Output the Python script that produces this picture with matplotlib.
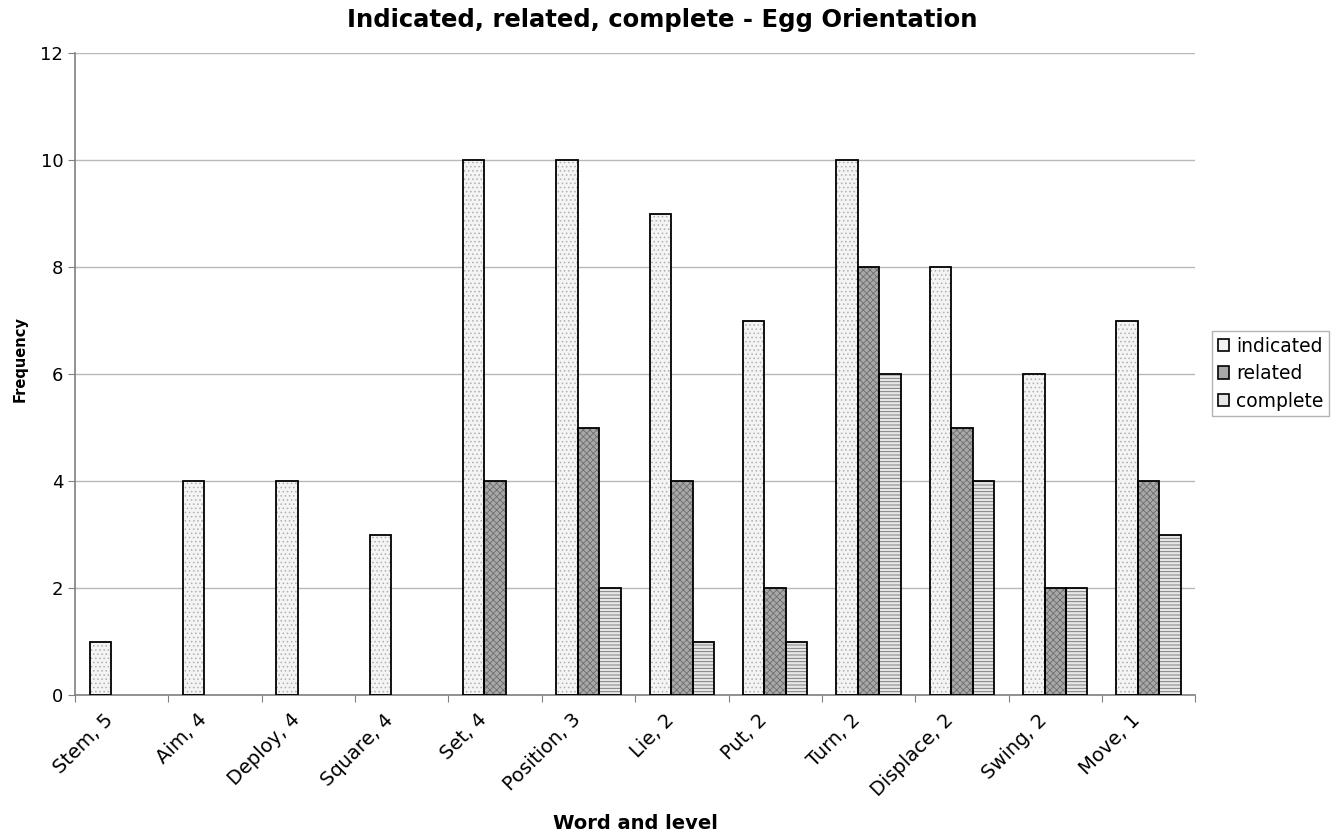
import matplotlib.pyplot as plt
import matplotlib.patches as mpatches
import numpy as np

words = ["Stem, 5", "Aim, 4", "Deploy, 4", "Square, 4", "Set, 4", "Position, 3",
         "Lie, 2", "Put, 2", "Turn, 2", "Displace, 2", "Swing, 2", "Move, 1"]
indicated = [1, 4, 4, 3, 10, 10, 9, 7, 10, 8, 6, 7]
related = [0, 0, 0, 0, 4, 5, 4, 2, 8, 5, 2, 4]
complete = [0, 0, 0, 0, 0, 2, 1, 1, 6, 4, 2, 3]

series = [("indicated", indicated, "#f4f4f4", "#b0b0b0", "...."),
          ("related", related, "#a8a8a8", "#6e6e6e", "xxxxx"),
          ("complete", complete, "#e6e6e6", "#707070", "-----")]

plt.rcParams["hatch.linewidth"] = 0.6

fig = plt.figure(figsize=(13.4, 8.34), dpi=100)
ax = fig.add_axes([0.056, 0.1667, 0.836, 0.7693])

x = np.arange(len(words)) + 0.5
w = 0.23
handles = []
for i, (name, vals, fc, hc, hatch) in enumerate(series):
    pos = x + (i - 1) * w
    vals = np.array(vals)
    keep = vals > 0
    # hatch layer, then black outline
    ax.bar(pos[keep], vals[keep], w, facecolor=fc, edgecolor=hc, hatch=hatch,
           linewidth=0, zorder=2)
    ax.bar(pos[keep], vals[keep], w, facecolor="none", edgecolor="black",
           linewidth=1.3, zorder=3)
    handles.append(mpatches.Patch(facecolor=fc, edgecolor="black",
                                  linewidth=1.2, label=name))

ax.set_xlim(0, len(words))
ax.set_ylim(0, 12)
ax.set_yticks(range(0, 13, 2))
ax.set_xticks(np.arange(len(words) + 1))
ax.set_xticklabels([])
# rotated labels end a little left of the category centre
ax.set_xticks(x - 0.19, minor=True)
ax.set_xticklabels(words, minor=True, rotation=45, ha="right",
                   rotation_mode="anchor", fontsize=14)
ax.tick_params(axis="x", which="minor", length=0, pad=11)
ax.tick_params(axis="x", which="major", length=5, color="#808080")
ax.tick_params(axis="y", length=5, color="#808080", labelsize=13)
ax.grid(axis="y", color="#b8b8b8", linewidth=1, zorder=0)
ax.set_axisbelow(True)
for s in ["top", "right"]:
    ax.spines[s].set_visible(False)
for s in ["left", "bottom"]:
    ax.spines[s].set_color("#808080")
    ax.spines[s].set_linewidth(1.2)

fig.suptitle("Indicated, related, complete - Egg Orientation", x=0.494, y=0.976,
             fontsize=17.5, fontweight="bold", va="center")
ax.set_ylabel("Frequency", fontsize=10.5, fontweight="bold")
ax.yaxis.set_label_coords(-0.042, 0.523)
ax.set_xlabel("Word and level", fontsize=14, fontweight="bold")
ax.xaxis.set_label_coords(0.5, -0.186)

leg = fig.legend(handles=handles, loc="center left", bbox_to_anchor=(0.9045, 0.552),
                 frameon=True, fancybox=False, fontsize=13.5, handlelength=0.62,
                 handleheight=0.62, handletextpad=0.35, borderpad=0.3,
                 borderaxespad=0, labelspacing=0.45, edgecolor="#a0a0a0")
leg.get_frame().set_linewidth(1.0)

plt.savefig("out.png", dpi=100)
